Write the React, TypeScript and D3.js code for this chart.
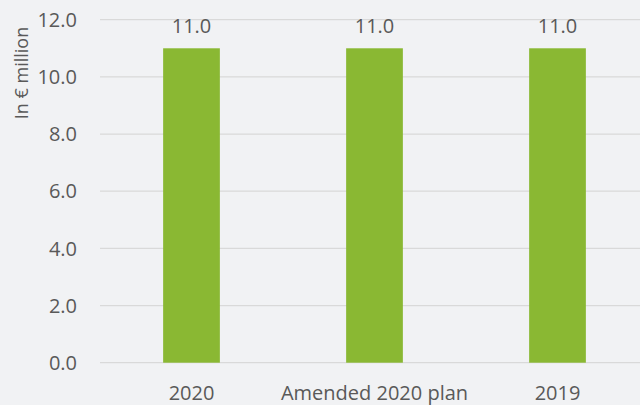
import React from "react";
import * as d3 from "d3";

const categories = ["2020", "Amended 2020 plan", "2019"];
const values = [11.0, 11.0, 11.0];
const yTicks = [0, 2, 4, 6, 8, 10, 12];
const yTitle = "In € million";

const W = 640;
const H = 405;
const FONT = "'Open Sans', sans-serif";
const TEXT = "#595959";

export default function App() {
  const x = d3.scaleBand<string>().domain(categories).range([100, 649]).paddingInner(0.69).paddingOuter(0.345);
  const y = d3.scaleLinear().domain([0, 12]).range([362.7, 19.7]);
  return (
    <svg width={W} height={H} style={{ position: "absolute", left: 0, top: 0, background: "#f1f2f4" }}>
      <rect x={0} y={0} width={W} height={H} fill="#f1f2f4" />
      {yTicks.map((t) => (
        <g key={t}>
          <line x1={100} x2={W} y1={y(t)} y2={y(t)} stroke="#d9d9d9" strokeWidth={1.3} />
          <text x={77} y={y(t)} dy="0.36em" textAnchor="end" fontFamily={FONT} fontSize={20} fill={TEXT}>
            {t.toFixed(1)}
          </text>
        </g>
      ))}
      {categories.map((c, i) => (
        <g key={c}>
          <rect x={x(c)} y={y(values[i])} width={x.bandwidth()} height={y(0) - y(values[i])} fill="#8ab833" />
          <text x={(x(c) as number) + x.bandwidth() / 2} y={33} textAnchor="middle" fontFamily={FONT} fontSize={20} fill={TEXT}>
            {values[i].toFixed(1)}
          </text>
          <text x={(x(c) as number) + x.bandwidth() / 2} y={400} textAnchor="middle" fontFamily={FONT} fontSize={20} fill={TEXT}>
            {c}
          </text>
        </g>
      ))}
      <text transform="translate(28,73) rotate(-90)" textAnchor="middle" fontFamily={FONT} fontSize={18} fill={TEXT}>
        {yTitle}
      </text>
    </svg>
  );
}
